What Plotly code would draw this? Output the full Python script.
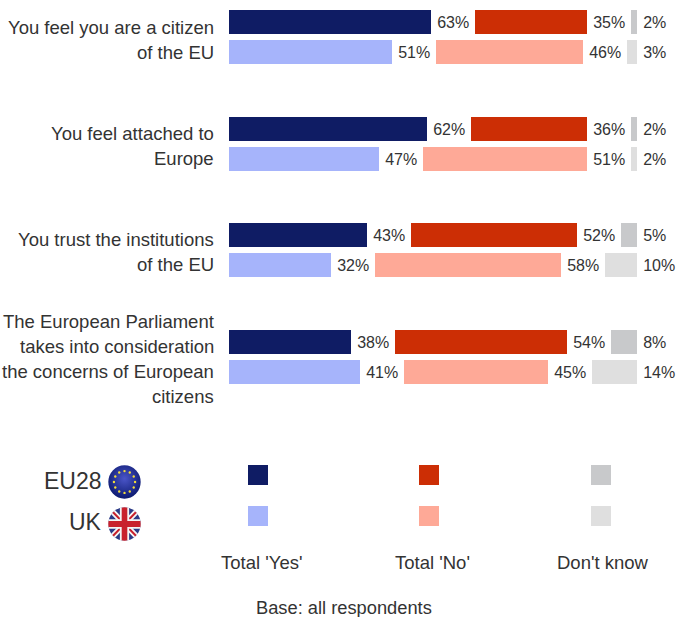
import base64
import plotly.graph_objects as go

rows = [
    ["You feel you are a citizen", "of the EU"],
    ["You feel attached to", "Europe"],
    ["You trust the institutions", "of the EU"],
    ["The European Parliament", "takes into consideration", "the concerns of European", "citizens"],
]
eu_yes = [63, 62, 43, 38]
eu_no = [35, 36, 52, 54]
eu_dk = [2, 2, 5, 8]
uk_yes = [51, 47, 32, 41]
uk_no = [46, 51, 58, 45]
uk_dk = [3, 2, 10, 14]
legend_series = ["Total 'Yes'", "Total 'No'", "Don't know"]
legend_groups = ["EU28", "UK"]
footer = "Base: all respondents"

NAVY, RED, GREY = "#0f1c64", "#cc2e05", "#c8c9cb"
LBLUE, SALMON, LGREY = "#a6b4fb", "#fea997", "#dfdfdf"
INK = "#333333"
FONT = "Liberation Sans, sans-serif"
W, H = 677, 617
PX_X, X0 = 3.2, 229      # px per percent, px of zero
PX_Y, Y0 = 30, 22        # px per slot, px of slot 0
PITCH = 3.55
GAP = 13.75


def dx(px):
    return (px - X0) / PX_X


def dy(px):
    return (px - Y0) / PX_Y


y_pos, yes, no, dk = [], [], [], []
for i in range(4):
    y_pos += [i * PITCH, i * PITCH + 1]
    yes += [eu_yes[i], uk_yes[i]]
    no += [eu_no[i], uk_no[i]]
    dk += [eu_dk[i], uk_dk[i]]

fig = go.Figure()


def bar(vals, colors):
    fig.add_trace(go.Bar(x=vals, y=y_pos, orientation="h", width=0.8,
                         marker=dict(color=colors, line=dict(width=0)), showlegend=False))


def spacer(width, labels):
    fig.add_trace(go.Bar(x=[width] * len(y_pos), y=y_pos, orientation="h", width=0.8,
                         marker=dict(color="rgba(0,0,0,0)", line=dict(width=0)),
                         text=[f"\u2009{v}%" for v in labels], textposition="inside",
                         insidetextanchor="start", textangle=0, constraintext="none",
                         insidetextfont=dict(family=FONT, size=16, color=INK),
                         showlegend=False))


bar(yes, [NAVY, LBLUE] * 4)
spacer(GAP, yes)
bar(no, [RED, SALMON] * 4)
spacer(GAP, no)
bar(dk, [GREY, LGREY] * 4)
spacer(GAP, dk)

# legend swatches
leg_x = [dx(258), dx(429), dx(601)]
for xv, cols in zip(leg_x, [(NAVY, LBLUE), (RED, SALMON), (GREY, LGREY)]):
    fig.add_trace(go.Scatter(x=[xv, xv], y=[dy(475), dy(516)], mode="markers",
                             marker=dict(symbol="square", size=20, color=list(cols), line=dict(width=0)),
                             showlegend=False))

ann = []


def text(px, py, s, anchor="center", size=18):
    ann.append(dict(x=dx(px), y=dy(py), text=s, showarrow=False, xanchor=anchor, yanchor="middle",
                    font=dict(family=FONT, size=size, color=INK), xref="x", yref="y"))


mids = [40, 146, 252, 358.5]
for lines, m in zip(rows, mids):
    n = len(lines)
    for k, ln in enumerate(lines):
        text(216, m + (k - (n - 1) / 2) * 25, ln, "right", 18.5)

for s, px in zip(legend_series, [261, 432, 603]):
    text(px, 562, s, "center", 18.5)
text(344, 607, footer, "center", 18.3)
text(104, 481, legend_groups[0], "right", 23)
text(104, 522, legend_groups[1], "right", 23)

eu_svg = """<svg xmlns='http://www.w3.org/2000/svg' viewBox='0 0 100 100'>
<defs><radialGradient id='g' cx='50%' cy='40%' r='60%'><stop offset='0' stop-color='#4a55c8'/><stop offset='1' stop-color='#0c1a70'/></radialGradient></defs>
<circle cx='50' cy='50' r='49' fill='url(#g)'/>
""" + "".join(
    f"<circle cx='{cx}' cy='{cy}' r='3.6' fill='#f2dc3a'/>"
    for cx, cy in [(50, 18), (66, 22), (78, 34), (82, 50), (78, 66), (66, 78),
                   (50, 82), (34, 78), (22, 66), (18, 50), (22, 34), (34, 22)]
) + "</svg>"

uk_svg = """<svg xmlns='http://www.w3.org/2000/svg' viewBox='0 0 100 100'>
<defs><clipPath id='c'><circle cx='50' cy='50' r='49'/></clipPath></defs>
<g clip-path='url(#c)'>
<rect width='100' height='100' fill='#2b3a86'/>
<path d='M0 0L100 100M100 0L0 100' stroke='#f4f4f4' stroke-width='17'/>
<path d='M0 0L100 100M100 0L0 100' stroke='#c8202c' stroke-width='6'/>
<path d='M50 0V100M0 50H100' stroke='#f4f4f4' stroke-width='28'/>
<path d='M50 0V100M0 50H100' stroke='#c8202c' stroke-width='17'/>
</g></svg>"""


def uri(svg):
    return "data:image/svg+xml;base64," + base64.b64encode(svg.encode()).decode()


images = [
    dict(source=uri(eu_svg), xref="x", yref="y", x=dx(108), y=dy(465), sizex=33 / PX_X, sizey=34 / PX_Y,
         xanchor="left", yanchor="top", sizing="stretch", layer="above"),
    dict(source=uri(uk_svg), xref="x", yref="y", x=dx(108), y=dy(507), sizex=33 / PX_X, sizey=34 / PX_Y,
         xanchor="left", yanchor="top", sizing="stretch", layer="above"),
]

fig.update_layout(
    width=W, height=H, margin=dict(l=0, r=0, t=0, b=0, pad=0),
    barmode="stack", bargap=0, paper_bgcolor="white", plot_bgcolor="white",
    xaxis=dict(range=[dx(0), dx(W)], visible=False, fixedrange=True),
    yaxis=dict(range=[dy(H), dy(0)], visible=False, fixedrange=True),
    annotations=ann, images=images, showlegend=False,
)
fig.write_html("out.html", config={"displayModeBar": False},
               post_script="document.body.style.margin='0';")
